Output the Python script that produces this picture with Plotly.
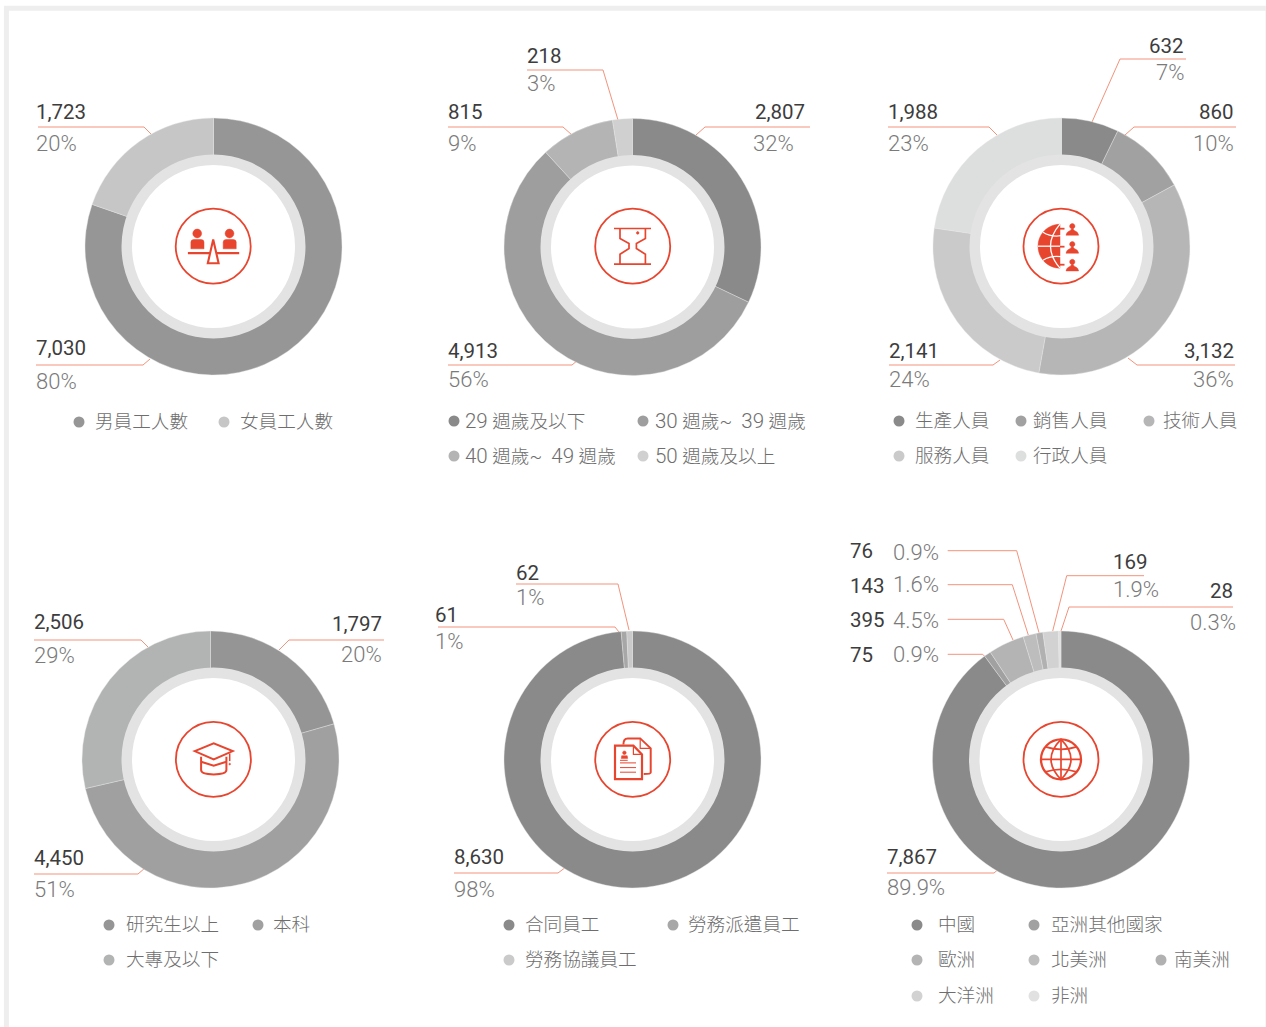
import re
import plotly.graph_objects as go

W, H = 1266, 1027
ACCENT = "#e8452f"
LEADER = "#f3937c"
NUM_COLOR = "#3d3d3d"
PCT_COLOR = "#7a7a7a"
LEG_COLOR = "#6e6e6e"
NUM_FONT = "Roboto"
PCT_FONT = "Roboto"
CJK_FONT = "Noto Sans CJK TC"

# ---------- data ----------
gender_labels = ["男員工人數", "女員工人數"]
gender_values = [7030, 1723]
gender_pct = ["80%", "20%"]
gender_colors = ["#969696", "#c5c6c5"]

age_labels = ["29 週歲及以下", "30 週歲~ 39 週歲", "40 週歲~ 49 週歲", "50 週歲及以上"]
age_values = [2807, 4913, 815, 218]
age_pct = ["32%", "56%", "9%", "3%"]
age_colors = ["#8a8a8a", "#9d9e9d", "#b3b4b3", "#cfd0cf"]

role_labels = ["生產人員", "銷售人員", "技術人員", "服務人員", "行政人員"]
role_values = [632, 860, 3132, 2141, 1988]
role_pct = ["7%", "10%", "36%", "24%", "23%"]
role_colors = ["#8a8a8a", "#a0a1a0", "#b5b6b5", "#c9cac9", "#dddede"]

edu_labels = ["研究生以上", "本科", "大專及以下"]
edu_values = [1797, 4450, 2506]
edu_pct = ["20%", "51%", "29%"]
edu_colors = ["#959595", "#9fa09f", "#b2b4b3"]

contract_labels = ["合同員工", "勞務派遣員工", "勞務協議員工"]
contract_values = [8630, 61, 62]
contract_pct = ["98%", "1%", "1%"]
contract_colors = ["#8a8a8a", "#a6a7a6", "#c9cac9"]

region_labels = ["中國", "亞洲其他國家", "歐洲", "北美洲", "南美洲", "大洋洲", "非洲"]
region_values = [7867, 75, 395, 143, 76, 169, 28]
region_pct = ["89.9%", "0.9%", "4.5%", "1.6%", "0.9%", "1.9%", "0.3%"]
region_colors = ["#8a8a8a", "#a0a1a0", "#b3b4b3", "#bcbdbc", "#b0b1b0", "#d1d2d1", "#e0e1e0"]

# ---------- layout (pixels) ----------
charts = [
    dict(center=(213.5, 246.5), ring=(213.5, 246.5), values=gender_values, pct=gender_pct, colors=gender_colors, labels=gender_labels,
         text=[(36, "left", 347, 381), (36, "left", 111, 143)],
         leaders=[[(36, 365), (143, 365), (150, 359)], [(38, 127), (144, 127), (151, 134)]],
         legend=[(79, 422, 95), (224, 422, 240)]),
    dict(center=(632.5, 247), ring=(632.5, 247), values=age_values, pct=age_pct, colors=age_colors, labels=age_labels,
         text=[(806, "right", 111, 143, 795), (448, "left", 350, 379), (448, "left", 111, 143), (527, "left", 55, 83)],
         leaders=[[(810, 127), (705, 127), (696, 135)], [(448, 365), (572, 365), (578, 360)],
                  [(448, 127), (563, 127), (572, 135)], [(527, 70), (603, 70), (618, 120)]],
         legend=[(454, 421, 465), (643, 421, 655), (454, 456, 465), (643, 456, 655)]),
    dict(center=(1061.5, 246.5), ring=(1061.5, 246.5), values=role_values, pct=role_pct, colors=role_colors, labels=role_labels,
         text=[(1185, "right", 45, 72), (1235, "right", 111, 143), (1235, "right", 350, 379),
               (889, "left", 350, 379), (888, "left", 111, 143)],
         leaders=[[(1186, 59), (1120, 59), (1092, 122)], [(1236, 127), (1134, 127), (1125, 135)],
                  [(1235, 365), (1137, 365), (1128, 358)], [(889, 365), (993, 365), (1000, 360)],
                  [(888, 127), (989, 127), (997, 135)]],
         legend=[(899, 421, 915), (1021, 421, 1033), (1149, 421, 1163), (899, 456, 915), (1021, 456, 1033)]),
    dict(center=(210.5, 759.5), ring=(213.5, 759.5), values=edu_values, pct=edu_pct, colors=edu_colors, labels=edu_labels,
         text=[(383, "right", 623, 654), (34, "left", 857, 889), (34, "left", 621, 655)],
         leaders=[[(384, 640), (289, 640), (279, 650)], [(34, 874), (138, 874), (145, 868)],
                  [(34, 640), (141, 640), (148, 647)]],
         legend=[(109, 925, 126), (258, 925, 273), (109, 960, 126)]),
    dict(center=(632.5, 759.5), ring=(632.5, 759.5), values=contract_values, pct=contract_pct, colors=contract_colors, labels=contract_labels,
         text=[(454, "left", 856, 889), (435, "left", 614, 641), (516, "left", 572, 597)],
         leaders=[[(454, 873), (558, 873), (566, 867)], [(438, 627), (615, 627), (619, 632)],
                  [(516, 584), (618, 584), (629, 630)]],
         legend=[(509, 925, 525), (673, 925, 688), (509, 960, 525)]),
    dict(center=(1061, 759.5), ring=(1061, 759.5), values=region_values, pct=region_pct, colors=region_colors, labels=region_labels,
         text=[(887, "left", 856, 887), (850, "left", 654, 654, 893), (850, "left", 619, 620, 893),
               (850, "left", 585, 584, 893), (850, "left", 550, 552, 893), (1113, "left", 561, 589),
               (1234, "right", 590, 622, 1237)],
         leaders=[[(887, 873), (994, 873), (1001, 867)], [(947.7, 654.3), (982.7, 654.3), (985.3, 657)],
                  [(947.7, 619.3), (1003.7, 619.3), (1013, 640)], [(947.7, 584.7), (1012.3, 584.7), (1028.3, 635)],
                  [(947.7, 550.7), (1016.7, 550.7), (1039, 632.7)], [(1144, 575.7), (1066.7, 575.7), (1052.7, 631)],
                  [(1233, 607), (1069, 607), (1061, 631)]],
         legend=[(917, 925, 938), (1034, 925, 1051), (917, 960, 938), (1034, 960, 1051), (1161, 960, 1174),
                 (917, 996, 938), (1034, 996, 1051)]),
]

R_OUT, R_HOLE, R_IN, R_RING = 128.5, 88, 92, 81.5
DX_LEFT = -1.5
DY_NUM, DY_PCT = 0.5, 0


def domain(cx, cy, r):
    return dict(x=[(cx - r) / W, (cx + r) / W], y=[1 - (cy + r) / H, 1 - (cy - r) / H])


def legend_markup(name):
    name = name.replace("~ ", "~\u00a0 ")
    return re.sub(r"(\d+)", r'<span style="font-size:20.5px">\1</span>', name)


fig = go.Figure()
annotations = []
shapes = []

# frame
shapes.append(dict(type="rect", xref="x", yref="y", x0=6.4, y0=8.2, x1=1268, y1=1045,
                   line=dict(color="#eeeeee", width=5), layer="below"))

for c in charts:
    cx, cy = c["center"]
    rx, ry = c["ring"]
    fig.add_trace(go.Pie(values=c["values"], labels=c["labels"], hole=R_HOLE / R_OUT,
                         domain=domain(cx, cy, R_OUT), sort=False, direction="clockwise", rotation=0,
                         marker=dict(colors=c["colors"], line=dict(color="#e6e6e6", width=0.4)),
                         textinfo="none", showlegend=False))
    fig.add_trace(go.Pie(values=[1], hole=R_RING / R_IN, domain=domain(rx, ry, R_IN), sort=False,
                         marker=dict(colors=["#e3e3e3"], line=dict(width=0)),
                         textinfo="none", hoverinfo="skip", showlegend=False))
    xs, ys = [], []
    for path in c["leaders"]:
        xs += [p[0] for p in path] + [None]
        ys += [p[1] for p in path] + [None]
    fig.add_trace(go.Scatter(x=xs, y=ys, mode="lines", line=dict(color=LEADER, width=1),
                             hoverinfo="skip", showlegend=False))
    fig.add_trace(go.Scatter(x=[l[0] for l in c["legend"]], y=[l[1] for l in c["legend"]], mode="markers",
                             marker=dict(color=c["colors"], size=11, line=dict(width=0)),
                             hoverinfo="skip", showlegend=False))
    for leg, name in zip(c["legend"], c["labels"]):
        annotations.append(dict(x=leg[2] + DX_LEFT, y=leg[1], xref="x", yref="y", text=legend_markup(name), showarrow=False,
                                xanchor="left", yanchor="middle", borderpad=0,
                                font=dict(family=f"{PCT_FONT}, {CJK_FONT}", size=18.6, color=LEG_COLOR, weight=300)))
    for t, v, p in zip(c["text"], c["values"], c["pct"]):
        x, anchor, ny, py = t[:4]
        px = t[4] if len(t) > 4 else x
        panchor = anchor if len(t) <= 4 or anchor == "right" else "left"
        annotations.append(dict(x=x + (DX_LEFT if anchor == "left" else 0), y=ny + DY_NUM, xref="x", yref="y",
                                text=f"{v:,}", showarrow=False, xanchor=anchor, yanchor="middle", borderpad=0,
                                font=dict(family=NUM_FONT, size=20.5, color=NUM_COLOR)))
        annotations.append(dict(x=px + (DX_LEFT if panchor == "left" else 0), y=py + DY_PCT, xref="x", yref="y",
                                text=p, showarrow=False, xanchor=panchor, yanchor="middle", borderpad=0,
                                font=dict(family=PCT_FONT, size=22, color=PCT_COLOR, weight=300)))


# ---------- icons ----------
def shift(path, cx, cy):
    """Translate an absolute M/L/C/Q path given in icon-local coordinates."""
    out = []
    for cmd in re.findall(r"[MLCQZ][^MLCQZ]*", path):
        nums = [float(n) for n in cmd[1:].split()]
        pts = [f"{nums[i] + cx:.2f},{nums[i + 1] + cy:.2f}" for i in range(0, len(nums), 2)]
        out.append(cmd[0] + " ".join(pts))
    return " ".join(out)


def icon_path(center, d, width=2.0, fill=None, color=ACCENT):
    shapes.append(dict(type="path", xref="x", yref="y", path=shift(d, *center), layer="above",
                       fillcolor=fill if fill else "rgba(0,0,0,0)",
                       line=dict(color=color, width=width)))


def circle_d(x, y, r):
    k = 0.5523 * r
    return (f"M {x - r} {y} C {x - r} {y - k} {x - k} {y - r} {x} {y - r} "
            f"C {x + k} {y - r} {x + r} {y - k} {x + r} {y} "
            f"C {x + r} {y + k} {x + k} {y + r} {x} {y + r} "
            f"C {x - k} {y + r} {x - r} {y + k} {x - r} {y} Z")


def icon_circle(center, x, y, r, width=2.0, fill=None, color=ACCENT):
    icon_path(center, circle_d(x, y, r), width, fill, color)


def filled(center, d):
    icon_path(center, d, 0.5, ACCENT)


icon_r = 37.5
centers = [(213.2, 246.2), (632.7, 246.2), (1061, 246.2), (213.4, 759.4), (632.7, 759.4), (1061, 759.4)]
for ctr in centers:
    icon_circle(ctr, 0, 0, icon_r, 1.8)

# scales
c0 = centers[0]
icon_path(c0, "M -25.3 6.9 L 26 6.9", 2.2)
icon_path(c0, "M 0 -6.7 L -5.4 17 L 5.4 17 Z", 2.1, "#ffffff")
for sx, x0, x1 in [(-16, -22.3, -9.2), (16.3, 10, 23)]:
    icon_circle(c0, sx, -12.7, 4.4, 0.5, ACCENT)
    filled(c0, f"M {x0} 2.6 L {x0} -4 Q {x0} -6.7 {x0 + 3} -6.7 L {x1 - 3} -6.7 Q {x1} -6.7 {x1} -4 L {x1} 2.6 Z")

# hourglass
c1 = centers[1]
icon_path(c1, "M -18.7 -17.7 L 18.3 -17.7", 1.7)
icon_path(c1, "M -18.7 18 L 18.3 18", 1.7)
icon_path(c1, "M -12.7 -17.7 L -12.7 -7.7 L -3.7 -2.7 L -3.7 2.3 L -12.7 8 L -12.7 18", 1.7)
icon_path(c1, "M 12.7 -17.7 L 12.7 -7.7 L 3.7 -2.7 L 3.7 2.3 L 12.7 8 L 12.7 18", 1.7)
icon_circle(c1, 5, -13.3, 1.3, 0.5, ACCENT)

# half globe with people
c2 = centers[2]
k = 0.5523 * 22
filled(c2, f"M -1 -22 C {-1 - k} -22 -23 {-k} -23 0 C -23 {k} {-1 - k} 22 -1 22 Z")
for d in ["M -23 0 L 0 0", "M -1 -22 Q -20 0 -1 22", "M -18 -14 Q -10 -9 0 -10.5", "M -18 14 Q -10 9 0 10.5"]:
    icon_path(c2, d, 1.3, None, "#ffffff")
for y in [-17.5, 0.5, 18.5]:
    icon_path(c2, f"M -1 {y} L 3.5 {y}", 1.8)
for y in [-20, -2, 15.7]:
    icon_circle(c2, 11.3, y, 2.6, 0.5, ACCENT)
    filled(c2, f"M 5 {y + 9} Q 5.5 {y + 5.5} 9 {y + 4.5} L 11.3 {y + 2} L 13.6 {y + 4.5} Q 17.2 {y + 5.5} 17.6 {y + 9} Z")

# graduation cap
c3 = centers[3]
icon_path(c3, "M -18.7 -8.3 L 0.3 -16 L 19.3 -8.3 L 0.3 0 Z", 2)
icon_path(c3, "M -12.3 -2.7 L -12.3 10.7 Q -12.3 15 0.3 15 Q 13 15 13 10.7 L 13 -2.7", 2)
icon_path(c3, "M -12.3 2.3 L 0.3 6.3 L 13 2.3", 2)
icon_path(c3, "M 16.3 -6 L 16.3 1.7", 1.5)
icon_circle(c3, 16.3, 4.7, 0.9, 0.5, ACCENT)

# documents
c4 = centers[4]
icon_path(c4, "M -9.3 -15 Q -9.3 -21 -5 -21 L 7.5 -21 L 18 -11 L 18 13 Q 18 14.5 11 14.5", 2)
icon_path(c4, "M 7.5 -21 L 7.5 -11 L 18 -11", 1.2)
icon_path(c4, "M -17.7 -13.7 L 0.7 -13.7 L 9.3 -5 L 9.3 19.7 L -17.7 19.7 Z", 2.2, "#ffffff")
icon_path(c4, "M 0.7 -13.7 L 0.7 -5 L 9.3 -5", 1.2)
icon_circle(c4, -8.3, -6.7, 1.8, 0.5, ACCENT)
filled(c4, "M -11.5 -1 L -11 -3.7 L -5.5 -3.7 L -5 -1 Z")
icon_path(c4, "M -12.7 0.9 L -5 0.9", 1)
for y in [3.5, 8.2, 12.8]:
    icon_path(c4, f"M -12.7 {y} L 3.3 {y}", 1)

# globe
c5 = centers[5]
icon_circle(c5, 0, 0, 20, 2.3)
icon_path(c5, "M 0 -20 L 0 20", 1.7)
icon_path(c5, "M -20 0 L 20 0", 1.7)
icon_path(c5, "M 0 -20 Q -20 0 0 20 Q 20 0 0 -20 Z", 1.7)
icon_path(c5, "M -15.5 -12.5 Q 0 -7.5 15.5 -12.5", 1.7)
icon_path(c5, "M -15.5 12.5 Q 0 7.5 15.5 12.5", 1.7)

fig.update_layout(
    width=W, height=H, margin=dict(l=0, r=0, t=0, b=0, pad=0),
    paper_bgcolor="#ffffff", plot_bgcolor="rgba(0,0,0,0)",
    showlegend=False, shapes=shapes, annotations=annotations,
    xaxis=dict(range=[0, W], visible=False, fixedrange=True, domain=[0, 1]),
    yaxis=dict(range=[H, 0], visible=False, fixedrange=True, domain=[0, 1]),
)

fig.write_html("out.html", config=dict(displayModeBar=False),
               post_script="document.body.style.margin='0';")
